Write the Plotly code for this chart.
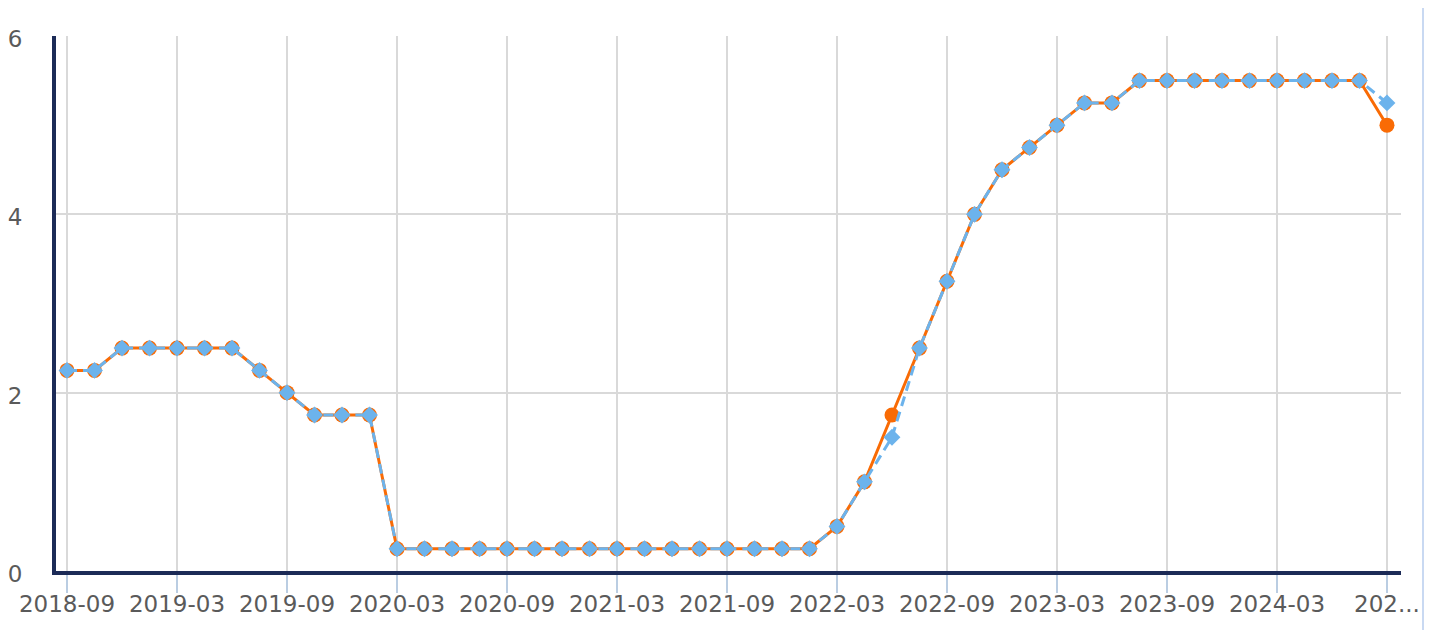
import plotly.graph_objects as go

# FOMC meeting months (categories)
months = [
    "2018-09", "2018-11", "2018-12",
    "2019-01", "2019-03", "2019-05", "2019-06", "2019-07", "2019-09", "2019-10", "2019-12",
    "2020-01", "2020-03", "2020-04", "2020-06", "2020-07", "2020-09", "2020-11", "2020-12",
    "2021-01", "2021-03", "2021-04", "2021-06", "2021-07", "2021-09", "2021-11", "2021-12",
    "2022-01", "2022-03", "2022-05", "2022-06", "2022-07", "2022-09", "2022-11", "2022-12",
    "2023-02", "2023-03", "2023-05", "2023-06", "2023-07", "2023-09", "2023-11", "2023-12",
    "2024-01", "2024-03", "2024-05", "2024-06", "2024-07", "2024-09",
]

actual = [
    2.25, 2.25, 2.5,
    2.5, 2.5, 2.5, 2.5, 2.25, 2.0, 1.75, 1.75,
    1.75, 0.25, 0.25, 0.25, 0.25, 0.25, 0.25, 0.25,
    0.25, 0.25, 0.25, 0.25, 0.25, 0.25, 0.25, 0.25,
    0.25, 0.5, 1.0, 1.75, 2.5, 3.25, 4.0, 4.5,
    4.75, 5.0, 5.25, 5.25, 5.5, 5.5, 5.5, 5.5,
    5.5, 5.5, 5.5, 5.5, 5.5, 5.0,
]

expected = [
    2.25, 2.25, 2.5,
    2.5, 2.5, 2.5, 2.5, 2.25, 2.0, 1.75, 1.75,
    1.75, 0.25, 0.25, 0.25, 0.25, 0.25, 0.25, 0.25,
    0.25, 0.25, 0.25, 0.25, 0.25, 0.25, 0.25, 0.25,
    0.25, 0.5, 1.0, 1.5, 2.5, 3.25, 4.0, 4.5,
    4.75, 5.0, 5.25, 5.25, 5.5, 5.5, 5.5, 5.5,
    5.5, 5.5, 5.5, 5.5, 5.5, 5.25,
]

tick_vals = months[::4]
tick_text = months[::4][:-1] + ["202..."]
y_ticks = [0, 2, 4, 6]

ORANGE = "#F96B05"
BLUE = "#6CB3EC"
NAVY = "#1C2B57"
GRID = "#D9D9D9"
FONT = dict(family="DejaVu Sans", size=23, color="#5A5A5A")

W, H = 1438, 630
ML, MR, MT, MB = 48, 45, 28, 67

fig = go.Figure()
fig.add_trace(go.Scatter(
    x=months, y=actual, mode="lines+markers",
    line=dict(color=ORANGE, width=3),
    marker=dict(symbol="circle", size=15, color=ORANGE),
    showlegend=False,
))
fig.add_trace(go.Scatter(
    x=months, y=expected, mode="lines+markers",
    line=dict(color=BLUE, width=3, dash="10px,6px"),
    marker=dict(symbol="diamond", size=13, color=BLUE),
    showlegend=False,
))

pw = W - ML - MR
ph = H - MT - MB
bx = (1415 - ML) / pw

fig.update_layout(
    width=W, height=H,
    margin=dict(l=ML, r=MR, t=MT, b=MB),
    paper_bgcolor="white", plot_bgcolor="white",
    font=FONT,
    xaxis=dict(
        type="category",
        categoryorder="array", categoryarray=months,
        range=[-0.4, 48.51],
        tickmode="array", tickvals=tick_vals, ticktext=tick_text,
        showgrid=True, gridcolor=GRID, gridwidth=1.5,
        ticks="outside", ticklen=18, tickwidth=1.5, tickcolor="#BACDE2",
        ticklabelstandoff=-9,
        showline=True, linecolor=NAVY, linewidth=4,
        zeroline=False, tickfont=FONT, automargin=False,
    ),
    yaxis=dict(
        range=[0, 6],
        tickmode="array", tickvals=y_ticks,
        showgrid=True, gridcolor=GRID, gridwidth=1.5,
        ticks="", ticklabelstandoff=25, ticklabelshift=3,
        showline=True, linecolor=NAVY, linewidth=4,
        zeroline=False, tickfont=FONT, automargin=False,
    ),
    shapes=[dict(
        type="line", xref="paper", yref="paper",
        x0=bx, x1=bx,
        y0=-(MB + 20) / ph, y1=1 + (MT + 20) / ph,
        line=dict(color="#C9D9F2", width=2), layer="above",
    )],
)

fig.write_html("out.html")
